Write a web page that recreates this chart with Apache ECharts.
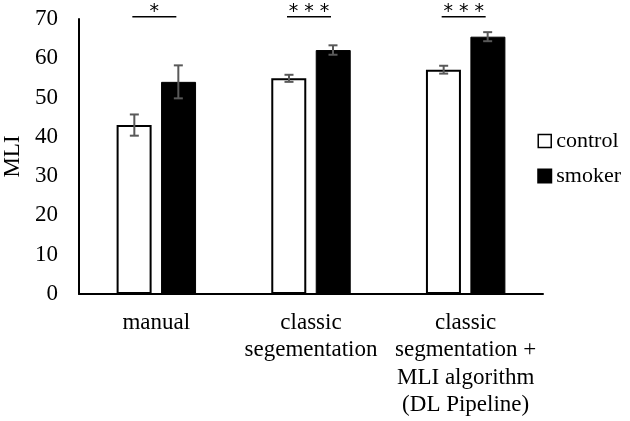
<!DOCTYPE html>
<html><head><meta charset="utf-8">
<script src="https://cdn.jsdelivr.net/npm/echarts@6/dist/echarts.min.js"></script>
<style>html,body{margin:0;padding:0;background:#fff}#c{width:630px;height:421px}</style>
</head><body><div id="c"></div>
<script>
var categories = ['manual', 'classic\nsegementation', 'classic\nsegmentation +\nMLI algorithm\n(DL Pipeline)'];
var controlValues = [43.0, 54.9, 57.1];
var controlErrors = [2.7, 0.9, 1.0];
var smokerValues = [54.0, 62.1, 65.5];
var smokerErrors = [4.2, 1.2, 1.15];
var significance = ['*', '* * *', '* * *'];
var sigLevel = 70.6;
var yTicks = [0, 10, 20, 30, 40, 50, 60, 70];

var FONT = '"Liberation Serif", "Times New Roman", serif';
var chart = echarts.init(document.getElementById('c'));

function errData(vals, errs) {
  return vals.map(function (v, i) { return [i, v - errs[i], v + errs[i]]; });
}
function errRender(offset) {
  return function (params, api) {
    var lo = api.coord([api.value(0), api.value(1)]);
    var hi = api.coord([api.value(0), api.value(2)]);
    var x = lo[0] + offset;
    var cw = 4.5;
    var st = { stroke: '#595959', lineWidth: 2 };
    return { type: 'group', children: [
      { type: 'line', shape: { x1: x, y1: lo[1], x2: x, y2: hi[1] }, style: st },
      { type: 'line', shape: { x1: x - cw, y1: lo[1], x2: x + cw, y2: lo[1] }, style: st },
      { type: 'line', shape: { x1: x - cw, y1: hi[1], x2: x + cw, y2: hi[1] }, style: st }
    ]};
  };
}

chart.setOption({
  animation: false,
  backgroundColor: '#fff',
  grid: { left: 79, right: 87, top: 19, bottom: 127, containLabel: false, outerBoundsMode: 'none' },
  legend: {
    orient: 'vertical', right: 4, top: 125,
    itemWidth: 13, itemHeight: 13, itemGap: 13,
    textStyle: { fontFamily: FONT, fontSize: 22, color: '#000' },
    data: [
      { name: 'control', icon: 'rect', itemStyle: { color: '#fff', borderColor: '#000', borderWidth: 1.5 } },
      { name: 'smoker', icon: 'rect', itemStyle: { color: '#000' } }
    ]
  },
  xAxis: {
    type: 'category', data: categories,
    axisLine: { lineStyle: { color: '#000', width: 2 } },
    axisTick: { show: false },
    axisLabel: { fontFamily: FONT, fontSize: 23, color: '#000', lineHeight: 27.5, margin: 15, interval: 0 }
  },
  yAxis: {
    type: 'value', min: 0, max: 70, interval: 10,
    name: 'MLI', nameLocation: 'middle', nameGap: 48, nameRotate: 90,
    nameTextStyle: { fontFamily: FONT, fontSize: 23, color: '#000' },
    axisLine: { show: true, lineStyle: { color: '#000', width: 2 } },
    axisTick: { show: false },
    splitLine: { show: false },
    axisLabel: { fontFamily: FONT, fontSize: 23, color: '#000', margin: 21,
      formatter: function (v) { return yTicks.indexOf(v) >= 0 ? String(v) : ''; } }
  },
  series: [
    { name: 'control', type: 'bar', data: controlValues, barWidth: 35, barGap: '27%',
      itemStyle: { color: '#fff', borderColor: '#000', borderWidth: 2 } },
    { name: 'smoker', type: 'bar', data: smokerValues, barWidth: 35,
      itemStyle: { color: '#000', borderColor: '#000', borderWidth: 1 } },
    { type: 'custom', renderItem: errRender(-22), data: errData(controlValues, controlErrors), z: 10, silent: true },
    { type: 'custom', renderItem: errRender(22), data: errData(smokerValues, smokerErrors), z: 10, silent: true },
    { type: 'custom', clip: false, silent: true, z: 10,
      data: significance.map(function (s, i) { return [i, sigLevel, s]; }),
      renderItem: function (params, api) {
        var p = api.coord([api.value(0), api.value(1)]);
        var x = p[0] - 2;
        return { type: 'group', children: [
          { type: 'line', shape: { x1: x - 22, y1: p[1], x2: x + 22, y2: p[1] }, style: { stroke: '#000', lineWidth: 1.5 } },
          { type: 'text', style: { x: x, y: p[1] + 5, text: significance[params.dataIndex], align: 'center', verticalAlign: 'bottom',
            font: '19px "DejaVu Sans", sans-serif', fill: '#000' } }
        ]};
      }
    }
  ]
});
</script></body></html>
